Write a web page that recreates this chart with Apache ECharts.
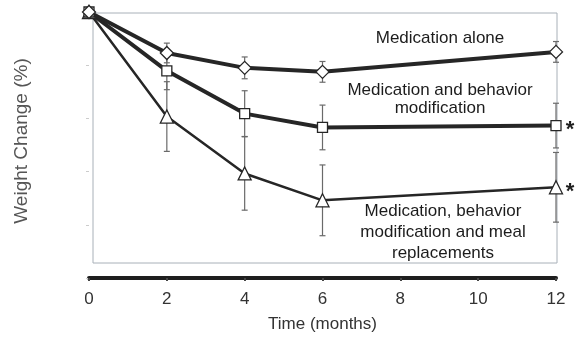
<!DOCTYPE html>
<html>
<head>
<meta charset="utf-8">
<script src="https://cdn.jsdelivr.net/npm/echarts@6/dist/echarts.min.js"></script>
<style>
  html, body { margin: 0; padding: 0; background: #fff; }
  #chart { width: 577px; height: 338px; }
</style>
</head>
<body>
<div id="chart"></div>
<script>
// Time points (months)
const months = [0, 2, 4, 6, 12];
const xTicks = [0, 2, 4, 6, 8, 10, 12];

// Mean weight change (%) per group
const medAlone      = [0, -1.54, -2.10, -2.25, -1.50];
const medBehavior   = [0, -2.21, -3.82, -4.34, -4.27];
const medBehavMeal  = [0, -3.93, -6.07, -7.08, -6.59];

// Error bar half-widths (%)
const medAloneErr     = [0, 0.37, 0.41, 0.39, 0.39];
const medBehaviorErr  = [0, 0.71, 0.86, 0.84, 0.84];
const medBehavMealErr = [0, 1.31, 1.38, 1.33, 1.31];

const groupLabels = {
  alone: 'Medication alone',
  behavior: ['Medication and behavior', 'modification'],
  meal: ['Medication, behavior', 'modification and meal', 'replacements']
};

const chart = echarts.init(document.getElementById('chart'));
const FONT = '"Liberation Sans", Arial, sans-serif';

function pairs(values) {
  return months.map((m, i) => [m, values[i]]);
}

function errorSeries(values, errs) {
  return {
    type: 'custom',
    z: 1,
    silent: true,
    data: months.map((m, i) => [m, values[i] - errs[i], values[i] + errs[i]]).filter((d, i) => errs[i] > 0),
    renderItem: function (params, api) {
      const lo = api.coord([api.value(0), api.value(1)]);
      const hi = api.coord([api.value(0), api.value(2)]);
      const cap = 3;
      const style = { stroke: '#6a6a6a', lineWidth: 1.2 };
      return {
        type: 'group',
        children: [
          { type: 'line', shape: { x1: lo[0], y1: lo[1], x2: hi[0], y2: hi[1] }, style },
          { type: 'line', shape: { x1: lo[0] - cap, y1: lo[1], x2: lo[0] + cap, y2: lo[1] }, style },
          { type: 'line', shape: { x1: hi[0] - cap, y1: hi[1], x2: hi[0] + cap, y2: hi[1] }, style }
        ]
      };
    }
  };
}

function lineSeries(values, symbol, width, size) {
  return {
    type: 'line',
    z: 3,
    data: pairs(values),
    symbol: symbol,
    symbolSize: size,
    showAllSymbol: true,
    lineStyle: { color: '#262626', width: width },
    itemStyle: { color: '#fff', borderColor: '#262626', borderWidth: 1.3 }
  };
}

function label(text, x, y) {
  return {
    type: 'text', x: x, y: y, z: 5,
    style: { text: text, fill: '#1c1c1c', font: '17px ' + FONT, textAlign: 'center', textVerticalAlign: 'middle' }
  };
}

chart.setOption({
  animation: false,
  grid: { left: 89, right: 21, top: 12, bottom: 59 },
  xAxis: {
    type: 'value',
    min: 0, max: 12, interval: 2,
    name: 'Time (months)',
    nameLocation: 'middle',
    nameGap: 38,
    nameTextStyle: { fontFamily: FONT, fontSize: 17, color: '#333' },
    axisLine: { show: true, onZero: false, lineStyle: { color: '#1e1e1e', width: 4 } },
    axisTick: { show: true, length: 3, lineStyle: { color: '#444', width: 2 } },
    axisLabel: {
      fontFamily: FONT, fontSize: 17, color: '#333', margin: 13,
      formatter: v => xTicks.includes(v) ? String(v) : ''
    },
    splitLine: { show: false }
  },
  yAxis: {
    type: 'value',
    min: -10, max: 0, interval: 2,
    name: 'Weight Change (%)',
    nameLocation: 'middle',
    nameGap: 58,
    nameRotate: 90,
    nameTextStyle: { fontFamily: FONT, fontSize: 19, color: '#555', padding: [0, 0, 0, 8] },
    axisLine: { show: false },
    axisTick: { show: true, length: 3, lineStyle: { color: '#ccc', width: 1 } },
    axisLabel: { show: false },
    splitLine: { show: false }
  },
  graphic: [
    {
      type: 'rect',
      z: 0,
      shape: { x: 93, y: 13, width: 464, height: 250 },
      style: { fill: 'none', stroke: '#a8b0b8', lineWidth: 1 }
    },
    label(groupLabels.alone, 440, 38),
    label(groupLabels.behavior[0], 440, 90),
    label(groupLabels.behavior[1], 440, 108),
    label(groupLabels.meal[0], 443, 211),
    label(groupLabels.meal[1], 443, 232),
    label(groupLabels.meal[2], 443, 253),
    { type: 'text', x: 570, y: 130, style: { text: '*', fill: '#1e1e1e', font: 'bold 22px ' + FONT, textAlign: 'center', textVerticalAlign: 'middle' } },
    { type: 'text', x: 570, y: 192, style: { text: '*', fill: '#1e1e1e', font: 'bold 22px ' + FONT, textAlign: 'center', textVerticalAlign: 'middle' } }
  ],
  series: [
    errorSeries(medAlone, medAloneErr),
    errorSeries(medBehavior, medBehaviorErr),
    errorSeries(medBehavMeal, medBehavMealErr),
    lineSeries(medBehavMeal, 'triangle', 2.5, 13),
    lineSeries(medBehavior, 'rect', 4, 10),
    lineSeries(medAlone, 'diamond', 4, 13)
  ]
});
</script>
</body>
</html>
